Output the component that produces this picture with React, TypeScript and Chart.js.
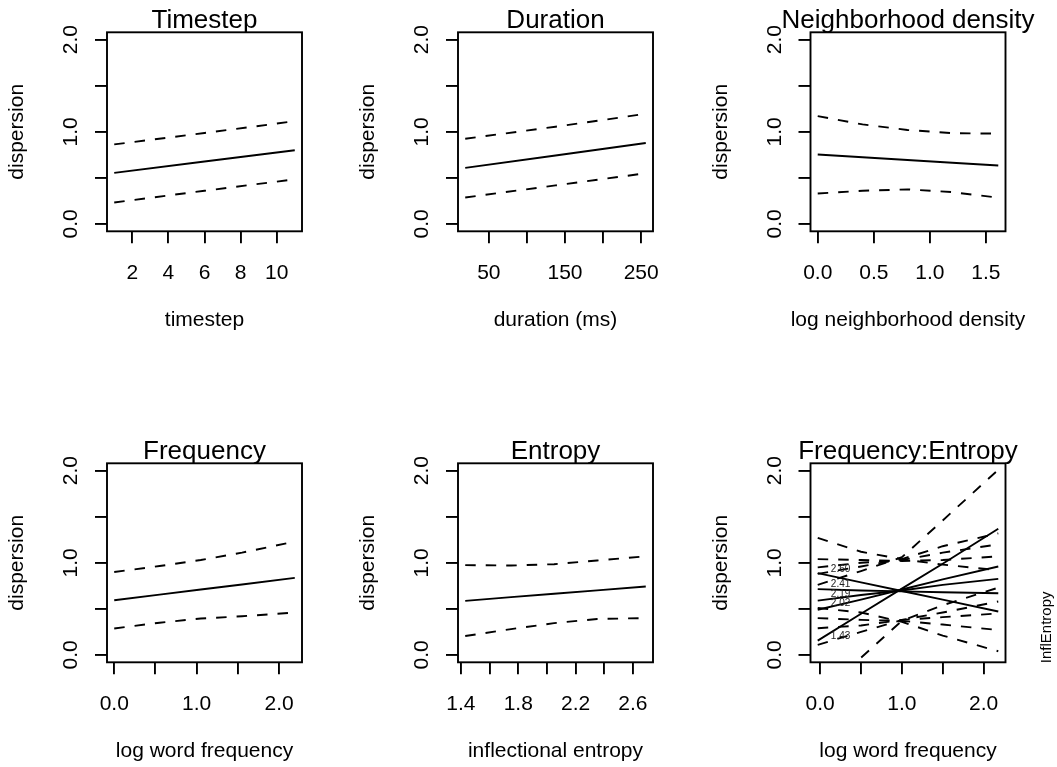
import React, { useEffect, useRef } from "react";
import { Chart, registerables } from "chart.js";

Chart.register(...registerables);

// ---------------- data ----------------
const yLimits = [0, 2];
const yTickValues = [0, 0.5, 1, 1.5, 2];
const yTickLabels = ["0.0", "", "1.0", "", "2.0"];
const yTitle = "dispersion";

// Timestep
const timestepX = [1, 6, 11];
const timestepFit = [0.554, 0.677, 0.8];
const timestepUpper = [0.863, 0.987, 1.115];
const timestepLower = [0.233, 0.36, 0.484];
const timestepTicks = [2, 4, 6, 8, 10];
const timestepTickLabels = ["2", "4", "6", "8", "10"];

// Duration
const durationX = [19, 137.5, 256];
const durationFit = [0.608, 0.743, 0.878];
const durationUpper = [0.925, 1.055, 1.195];
const durationLower = [0.287, 0.418, 0.55];
const durationTicks = [50, 100, 150, 200, 250];
const durationTickLabels = ["50", "", "150", "", "250"];

// Neighborhood density
const densityX = [0, 0.4, 0.8, 1.2, 1.61];
const densityFit = [0.754, 0.724, 0.694, 0.664, 0.634];
const densityUpper = [1.17, 1.08, 1.02, 0.985, 0.98];
const densityLower = [0.33, 0.36, 0.375, 0.345, 0.285];
const densityTicks = [0, 0.5, 1, 1.5];
const densityTickLabels = ["0.0", "0.5", "1.0", "1.5"];

// Frequency
const frequencyX = [0, 0.55, 1.05, 1.55, 2.19];
const frequencyFit = [0.593, 0.654, 0.71, 0.765, 0.836];
const frequencyUpper = [0.9, 0.965, 1.03, 1.11, 1.23];
const frequencyLower = [0.287, 0.35, 0.395, 0.42, 0.46];
const frequencyTicks = [0, 0.5, 1, 1.5, 2];
const frequencyTickLabels = ["0.0", "", "1.0", "", "2.0"];

// Entropy
const entropyX = [1.43, 1.75, 2.05, 2.35, 2.69];
const entropyFit = [0.587, 0.627, 0.664, 0.701, 0.743];
const entropyUpper = [0.975, 0.97, 0.985, 1.025, 1.07];
const entropyLower = [0.205, 0.28, 0.345, 0.39, 0.4];
const entropyTicks = [1.4, 1.6, 1.8, 2.0, 2.2, 2.4, 2.6];
const entropyTickLabels = ["1.4", "", "1.8", "", "2.2", "", "2.6"];

// Frequency:Entropy interaction
const interX = [-0.03, 0.5, 1.0, 1.5, 2.18];
const interLevels = ["1.43", "2.02", "2.19", "2.41", "2.60"];
const interFit143 = [0.155, 0.447, 0.72, 0.99, 1.37];
const interFit202 = [0.49, 0.6, 0.71, 0.82, 0.96];
const interFit219 = [0.59, 0.65, 0.7, 0.76, 0.826];
const interFit241 = [0.714, 0.7, 0.69, 0.68, 0.67];
const interFit260 = [0.888, 0.788, 0.694, 0.6, 0.471];
const interUpper143 = [0.76, 0.91, 1.06, 1.46, 2.01];
const interUpper202 = [0.88, 0.96, 1.04, 1.18, 1.32];
const interUpper219 = [0.95, 1.0, 1.03, 1.11, 1.2];
const interUpper241 = [1.04, 1.03, 1.02, 1.03, 1.07];
const interUpper260 = [1.27, 1.12, 1.04, 0.98, 0.92];
const interLower143 = [-0.5, -0.03, 0.37, 0.54, 0.73];
const interLower202 = [0.11, 0.25, 0.38, 0.46, 0.58];
const interLower219 = [0.29, 0.32, 0.38, 0.41, 0.45];
const interLower241 = [0.4, 0.38, 0.37, 0.33, 0.27];
const interLower260 = [0.51, 0.46, 0.36, 0.21, 0.04];
const interLabelX = [0.25, 0.25, 0.25, 0.25, 0.25];
const interLabelY = [0.2, 0.556, 0.664, 0.772, 0.935];
const interLegendTitle = "InflEntropy";
const interTicks = [0, 0.5, 1, 1.5, 2];
const interTickLabels = ["0.0", "", "1.0", "", "2.0"];

// ---------------- styling ----------------
const FONT = '"Liberation Sans", Arial, Helvetica, sans-serif';
const LW = 1.9;
const DASH = [10.5, 10];
const TICK = 12;
const TICK_FONT = 21;
const LABEL_FONT = 21;
const TITLE_FONT = 26;

const COL_X = [0, 352, 704];
const COL_W = [352, 352, 353];
const ROW_Y = [0, 384];
const ROW_H = [384, 383];
const BOX_L = [107, 458, 810.5];
const BOX_T = [32.3, 463.3];
const BOX_W = 195;
const BOX_H = 199;

type Curve = { xs: number[]; ys: number[]; dashed: boolean };
type Spec = {
  col: number;
  row: number;
  title: string;
  xTitle: string;
  xTicks: number[];
  xTickLabels: string[];
  curves: Curve[];
  inter?: boolean;
};

const band = (xs: number[], fit: number[], up: number[], lo: number[]): Curve[] => [
  { xs, ys: up, dashed: true },
  { xs, ys: lo, dashed: true },
  { xs, ys: fit, dashed: false },
];

const specs: Spec[] = [
  { col: 0, row: 0, title: "Timestep", xTitle: "timestep", xTicks: timestepTicks, xTickLabels: timestepTickLabels,
    curves: band(timestepX, timestepFit, timestepUpper, timestepLower) },
  { col: 1, row: 0, title: "Duration", xTitle: "duration (ms)", xTicks: durationTicks, xTickLabels: durationTickLabels,
    curves: band(durationX, durationFit, durationUpper, durationLower) },
  { col: 2, row: 0, title: "Neighborhood density", xTitle: "log neighborhood density", xTicks: densityTicks, xTickLabels: densityTickLabels,
    curves: band(densityX, densityFit, densityUpper, densityLower) },
  { col: 0, row: 1, title: "Frequency", xTitle: "log word frequency", xTicks: frequencyTicks, xTickLabels: frequencyTickLabels,
    curves: band(frequencyX, frequencyFit, frequencyUpper, frequencyLower) },
  { col: 1, row: 1, title: "Entropy", xTitle: "inflectional entropy", xTicks: entropyTicks, xTickLabels: entropyTickLabels,
    curves: band(entropyX, entropyFit, entropyUpper, entropyLower) },
  { col: 2, row: 1, title: "Frequency:Entropy", xTitle: "log word frequency", xTicks: interTicks, xTickLabels: interTickLabels,
    inter: true,
    curves: [
      ...band(interX, interFit143, interUpper143, interLower143),
      ...band(interX, interFit202, interUpper202, interLower202),
      ...band(interX, interFit219, interUpper219, interLower219),
      ...band(interX, interFit241, interUpper241, interLower241),
      ...band(interX, interFit260, interUpper260, interLower260),
    ] },
];

function extend(lo: number, hi: number) {
  const d = (hi - lo) * 0.04;
  return [lo - d, hi + d];
}

function makeDecor(spec: Spec) {
  return {
    id: "decor" + spec.col + spec.row,
    afterDraw(chart: any) {
      const { ctx, chartArea: a, scales } = chart;
      const xs = scales.x;
      const ys = scales.y;
      ctx.save();
      ctx.strokeStyle = "#000";
      ctx.lineWidth = LW;
      ctx.strokeRect(a.left, a.top, a.right - a.left, a.bottom - a.top);
      ctx.fillStyle = "#000";
      ctx.textAlign = "center";
      ctx.textBaseline = "alphabetic";
      // x tick labels
      ctx.font = `${TICK_FONT}px ${FONT}`;
      spec.xTicks.forEach((v, i) => {
        const lab = spec.xTickLabels[i];
        if (lab) ctx.fillText(lab, xs.getPixelForValue(v), a.bottom + 47.5);
      });
      // y tick labels (rotated)
      yTickValues.forEach((v, i) => {
        const lab = yTickLabels[i];
        if (!lab) return;
        ctx.save();
        ctx.translate(a.left - 30, ys.getPixelForValue(v));
        ctx.rotate(-Math.PI / 2);
        ctx.fillText(lab, 0, 0);
        ctx.restore();
      });
      // axis titles
      ctx.font = `${LABEL_FONT}px ${FONT}`;
      ctx.fillText(spec.xTitle, (a.left + a.right) / 2, a.bottom + 95);
      ctx.save();
      ctx.translate(a.left - 84, (a.top + a.bottom) / 2);
      ctx.rotate(-Math.PI / 2);
      ctx.fillText(yTitle, 0, 0);
      ctx.restore();
      // main title
      ctx.font = `${TITLE_FONT}px ${FONT}`;
      ctx.fillText(spec.title, (a.left + a.right) / 2, a.top - 4.5);
      if (spec.inter) {
        ctx.font = `10px ${FONT}`;
        ctx.fillStyle = "#222";
        ctx.textBaseline = "middle";
        interLevels.forEach((lab, i) => {
          ctx.fillText(lab, xs.getPixelForValue(interLabelX[i]), ys.getPixelForValue(interLabelY[i]));
        });
        ctx.fillStyle = "#000";
        ctx.textBaseline = "alphabetic";
        ctx.font = `15px ${FONT}`;
        ctx.save();
        ctx.translate(a.right + 45, a.bottom - 35);
        ctx.rotate(-Math.PI / 2);
        ctx.fillText(interLegendTitle, 0, 0);
        ctx.restore();
      }
      ctx.restore();
    },
  };
}

function Panel({ spec }: { spec: Spec }) {
  const ref = useRef<HTMLCanvasElement>(null);
  const cx = COL_X[spec.col];
  const cy = ROW_Y[spec.row];
  const cw = COL_W[spec.col];
  const ch = ROW_H[spec.row];
  useEffect(() => {
    const allX = spec.curves.flatMap((c) => c.xs);
    const [xMin, xMax] = extend(Math.min(...allX), Math.max(...allX));
    const [yMin, yMax] = extend(yLimits[0], yLimits[1]);
    const L = BOX_L[spec.col];
    const T = BOX_T[spec.row];
    const padding = {
      left: L - cx - TICK,
      top: T - cy,
      right: cx + cw - (L + BOX_W),
      bottom: cy + ch - (T + BOX_H) - TICK,
    };
    const chart = new Chart(ref.current as HTMLCanvasElement, {
      type: "line",
      data: {
        datasets: spec.curves.map((c) => ({
          data: c.xs.map((x, i) => ({ x, y: c.ys[i] })),
          borderColor: "#000",
          borderWidth: LW,
          borderDash: c.dashed ? DASH : [],
          pointRadius: 0,
          fill: false,
          tension: 0,
        })),
      },
      options: {
        responsive: false,
        animation: false,
        events: [],
        layout: { padding },
        plugins: { legend: { display: false }, tooltip: { enabled: false }, title: { display: false } },
        scales: {
          x: {
            type: "linear",
            min: xMin,
            max: xMax,
            bounds: "data",
            afterBuildTicks: (s: any) => {
              s.ticks = spec.xTicks.map((v) => ({ value: v }));
            },
            afterFit: (s: any) => {
              s.height = TICK;
            },
            ticks: { display: false },
            grid: { drawOnChartArea: false, drawTicks: true, tickLength: TICK, color: "#000", lineWidth: LW },
            border: { display: false },
          },
          y: {
            type: "linear",
            min: yMin,
            max: yMax,
            bounds: "data",
            afterBuildTicks: (s: any) => {
              s.ticks = yTickValues.map((v) => ({ value: v }));
            },
            afterFit: (s: any) => {
              s.width = TICK;
            },
            ticks: { display: false },
            grid: { drawOnChartArea: false, drawTicks: true, tickLength: TICK, color: "#000", lineWidth: LW },
            border: { display: false },
          },
        },
      } as any,
      plugins: [makeDecor(spec)],
    });
    return () => chart.destroy();
  }, []);
  return (
    <canvas
      ref={ref}
      width={cw}
      height={ch}
      style={{ position: "absolute", left: cx, top: cy, width: cw + "px", height: ch + "px" }}
    />
  );
}

export default function App() {
  return (
    <div style={{ position: "absolute", left: 0, top: 0, width: 1057, height: 767, background: "#fff", overflow: "hidden" }}>
      {specs.map((s, i) => (
        <Panel key={i} spec={s} />
      ))}
    </div>
  );
}
